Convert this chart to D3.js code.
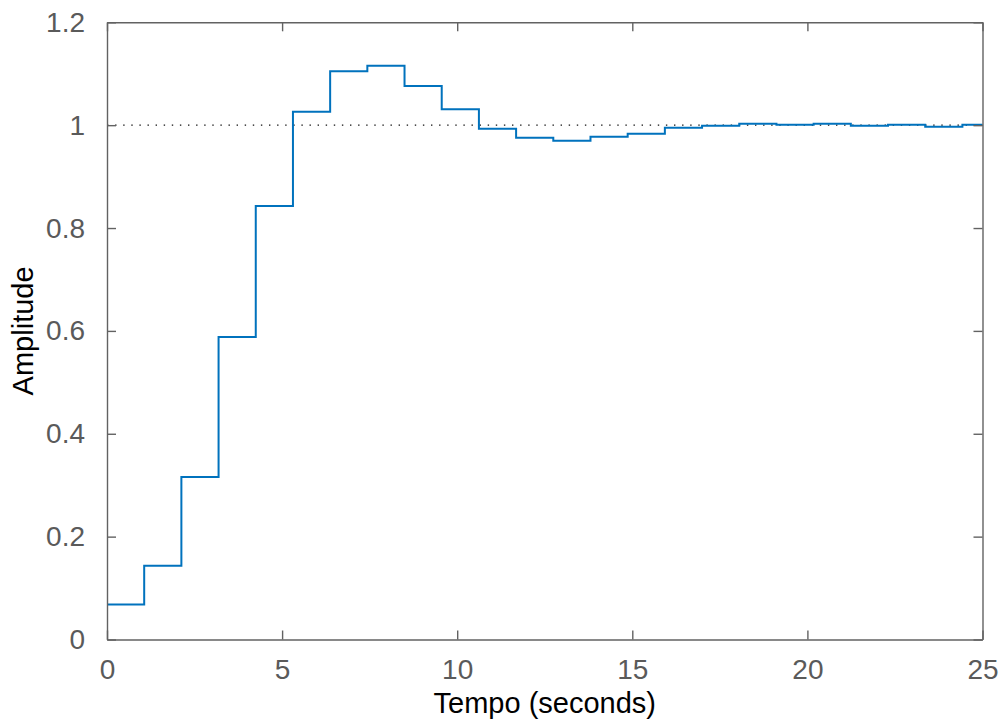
<!DOCTYPE html>
<html>
<head>
<meta charset="utf-8">
<script src="https://cdn.jsdelivr.net/npm/d3@7"></script>
<style>
  html, body { margin: 0; padding: 0; background: #fff; }
  svg { display: block; }
  text { font-family: "Liberation Sans", Arial, Helvetica, sans-serif; }
</style>
</head>
<body>
<svg id="chart" width="1003" height="724"></svg>
<script>
// Discrete step response: sample instants (s) and held output values
const sampleTimes = [0, 1.062, 2.124, 3.186, 4.248, 5.31, 6.372, 7.434, 8.496, 9.558,
  10.62, 11.682, 12.744, 13.806, 14.868, 15.93, 16.992, 18.054, 19.116, 20.178,
  21.24, 22.302, 23.364, 24.426];
const amplitude = [0.068, 0.1435, 0.316, 0.588, 0.843, 1.026, 1.105, 1.1155, 1.076, 1.031,
  0.993, 0.9755, 0.9697, 0.9775, 0.9833, 0.995, 0.999, 1.0027, 1.0008, 1.0027,
  0.999, 1.0008, 0.9969, 1.0008];
const finalValue = 1;
const xTicks = [0, 5, 10, 15, 20, 25];
const yTicks = [0, 0.2, 0.4, 0.6, 0.8, 1, 1.2];
const xDomain = [0, 25];
const yDomain = [0, 1.2];

const svg = d3.select("#chart");
const margin = { left: 107, right: 1003 - 982.5, top: 22.3, bottom: 724 - 639.5 };
const W = 1003, H = 724;

const x = d3.scaleLinear().domain(xDomain).range([margin.left, W - margin.right]);
const y = d3.scaleLinear().domain(yDomain).range([H - margin.bottom, margin.top]);

const axisColor = "#626262";
const tickLabelColor = "#5a5a5a";
const tickLen = 9;

// steady-state reference line
svg.append("line")
  .attr("x1", x(xDomain[0])).attr("x2", x(xDomain[1]))
  .attr("y1", y(finalValue)).attr("y2", y(finalValue))
  .attr("stroke", "#111").attr("stroke-width", 1.4)
  .attr("stroke-dasharray", "1.4 6.7");

// stairs: each sample held until the next, last held to the end of the window
const pts = sampleTimes.map((t, i) => [t, amplitude[i]]);
pts.push([xDomain[1], amplitude[amplitude.length - 1]]);
const line = d3.line()
  .x(d => x(d[0])).y(d => y(d[1]))
  .curve(d3.curveStepAfter);
svg.append("path")
  .attr("d", line(pts))
  .attr("fill", "none")
  .attr("stroke", "#0072BD")
  .attr("stroke-width", 2);

// axes box with inward ticks on all four sides
const fontSize = 28;
const gBottom = svg.append("g").attr("transform", `translate(0,${y(yDomain[0])})`)
  .call(d3.axisBottom(x).tickValues(xTicks).tickSizeInner(-tickLen).tickSizeOuter(0).tickPadding(20).tickFormat(d3.format("d")));
const gTop = svg.append("g").attr("transform", `translate(0,${y(yDomain[1])})`)
  .call(d3.axisTop(x).tickValues(xTicks).tickSizeInner(-tickLen).tickSizeOuter(0).tickFormat(""));
const gLeft = svg.append("g").attr("transform", `translate(${x(xDomain[0])},0)`)
  .call(d3.axisLeft(y).tickValues(yTicks).tickSizeInner(-tickLen).tickSizeOuter(0).tickPadding(22).tickFormat(d => d3.format("")(+d.toFixed(1))));
const gRight = svg.append("g").attr("transform", `translate(${x(xDomain[1])},0)`)
  .call(d3.axisRight(y).tickValues(yTicks).tickSizeInner(-tickLen).tickSizeOuter(0).tickFormat(""));

[gBottom, gTop, gLeft, gRight].forEach(g => {
  g.select(".domain").attr("stroke", axisColor).attr("stroke-width", 1.4);
  g.selectAll(".tick line").attr("stroke", axisColor).attr("stroke-width", 1.4);
  g.selectAll(".tick text")
    .attr("fill", tickLabelColor)
    .style("font-size", fontSize + "px")
    .style("font-family", '"Liberation Sans", Arial, sans-serif');
});
gBottom.selectAll(".tick text").attr("dy", "0.71em");

// axis titles
svg.append("text")
  .attr("x", (x(xDomain[0]) + x(xDomain[1])) / 2)
  .attr("y", 713)
  .attr("text-anchor", "middle")
  .attr("fill", "#000")
  .style("font-size", "29px")
  .text("Tempo (seconds)");

svg.append("text")
  .attr("transform", `translate(33,${(y(yDomain[0]) + y(yDomain[1])) / 2}) rotate(-90)`)
  .attr("text-anchor", "middle")
  .attr("fill", "#000")
  .style("font-size", "29px")
  .text("Amplitude");
</script>
</body>
</html>
